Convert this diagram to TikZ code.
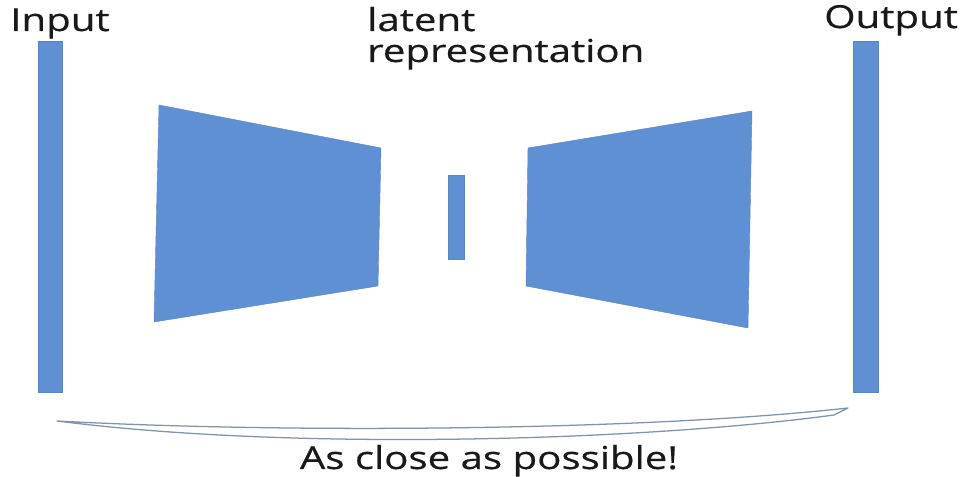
\documentclass[tikz,border=0pt]{standalone}
\usepackage{xcolor}
\usepackage{fontspec}
\setmainfont{Open Sans}[FakeStretch=1.27,FakeBold=0.5]
\usepackage{tikz}
\definecolor{AEBlue}{HTML}{6090D4}
\definecolor{AEEdge}{HTML}{5A84C2}
\definecolor{AELine}{HTML}{7F93AB}
\tikzset{
  layer/.style={fill=AEBlue,draw=AEEdge,line width=0.3pt},
  lbl/.style={inner sep=0pt,font=\fontsize{22.5}{25}\selectfont,text=black!90}
}

\begin{document}
\begin{tikzpicture}[x=0.025cm,y=-0.025cm]
\path[use as bounding box] (0,0) rectangle (962,477);
% input and output
\path[layer] (38,41) rectangle (62,392);
\path[layer] (853,41) rectangle (878,392);
% encoder, code, decoder
\path[layer] (159,105) -- (381,148) -- (378,286) -- (154,322) -- cycle;
\path[layer] (448,175) rectangle (464,259);
\path[layer] (528,148) -- (752,111) -- (748,328) -- (526,286) -- cycle;
% brace
\draw[AELine,fill=white,line width=0.9pt,line join=round]
  (57,421) .. controls (300,434) and (650,430) .. (848,408)
  -- (834,415) .. controls (650,440) and (300,452) .. cycle;
\node[lbl,anchor=base west] (input) at (10,31) {Input};
\node[lbl,anchor=base west] (output) at (824,28) {Output};
\node[lbl,anchor=base west] (latent) at (367,31) {latent};
\node[lbl,anchor=base west] (repr) at (367,62) {representation};
\node[lbl,anchor=base] (close) at (489,469) {As close as possible!};
\end{tikzpicture}
\end{document}
